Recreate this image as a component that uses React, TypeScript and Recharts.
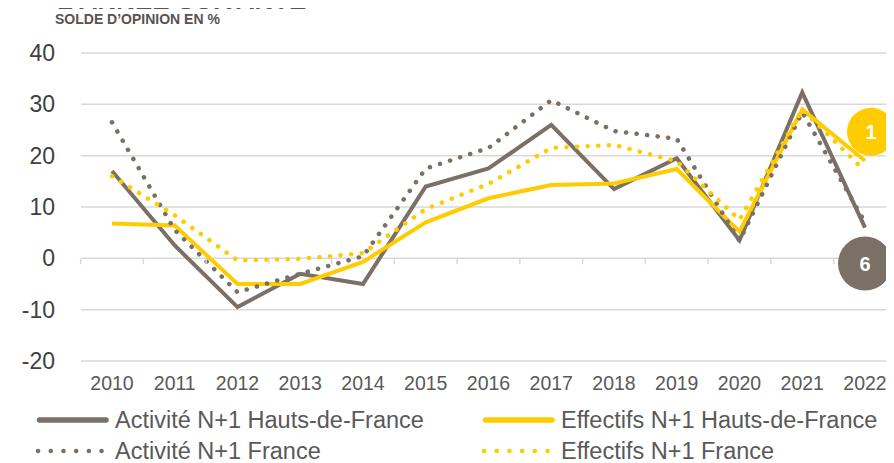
import {
  CartesianGrid,
  LabelList,
  Legend,
  Line,
  LineChart,
  XAxis,
  YAxis,
} from "recharts";

const years = ["2010", "2011", "2012", "2013", "2014", "2015", "2016", "2017", "2018", "2019", "2020", "2021", "2022"];
const activiteHdf = [17, 2.5, -9.5, -3, -5, 14, 17.5, 26, 13.5, 19.5, 3.5, 32.3, 6];
const effectifsHdf = [6.8, 6.4, -5, -5, -0.7, 7, 11.7, 14.3, 14.6, 17.4, 5.2, 29, 19];
const activiteFr = [26.5, 5.5, -6.6, -3, 0.4, 17.5, 21.5, 30.8, 24.8, 23.3, 3.4, 28.5, 7];
const effectifsFr = [16, 8.4, -0.4, -0.1, 1, 9.6, 14.5, 21.5, 22.1, 18.9, 7.5, 29, 17];
const yTicks = [-20, -10, 0, 10, 20, 30, 40];
const endLabelActivite = "6";
const endLabelEffectifs = "1";

const GRAY = "#7a7066";
const YELLOW = "#ffcc00";
const FONT = "'Liberation Sans', Arial, sans-serif";

// plot geometry
const PLOT_TOP = 53;
const PLOT_BOTTOM = 361;
const ZERO_Y = PLOT_TOP + ((PLOT_BOTTOM - PLOT_TOP) * 40) / 60;
const STEP = 62.75;

const data = years.map((year, i) => ({
  year,
  activiteHdf: activiteHdf[i],
  effectifsHdf: effectifsHdf[i],
  activiteFr: activiteFr[i],
  effectifsFr: effectifsFr[i],
}));

const legendItems = [
  { label: "Activité N+1 Hauts-de-France", color: GRAY, dotted: false },
  { label: "Effectifs N+1 Hauts-de-France", color: YELLOW, dotted: false },
  { label: "Activité N+1 France", color: GRAY, dotted: true },
  { label: "Effectifs N+1 France", color: YELLOW, dotted: true },
];

const XTick = (props: any) => {
  const { x, y, payload, index } = props;
  return (
    <g>
      <line x1={x - STEP / 2} x2={x - STEP / 2} y1={ZERO_Y} y2={ZERO_Y + 6} stroke="#d9d9d9" strokeWidth={1.5} />
      {index === years.length - 1 && (
        <line x1={x + STEP / 2} x2={x + STEP / 2} y1={ZERO_Y} y2={ZERO_Y + 6} stroke="#d9d9d9" strokeWidth={1.5} />
      )}
      <text x={x} y={y} dy={21} textAnchor="middle" fontSize={19.5} fill="#595959" fontFamily={FONT}>
        {payload.value}
      </text>
    </g>
  );
};

const endBubble = (color: string, text: string, dx: number, dy: number, r: number) => (props: any) => {
  const { x, y, index } = props;
  if (index !== years.length - 1) return null;
  return (
    <g>
      <circle cx={x + dx} cy={y + dy} r={r} fill={color} />
      <text x={x + dx} y={y + dy} dy={7} textAnchor="middle" fontSize={20} fontWeight="bold" fill="#fff" fontFamily={FONT}>
        {text}
      </text>
    </g>
  );
};

const LegendContent = () => (
  <div style={{ position: "relative", width: 894, height: 58, fontFamily: FONT }}>
    {legendItems.map((item, i) => {
      const left = i % 2 === 0 ? 34 : 480;
      const top = i < 2 ? 4 : 35;
      return (
        <div key={item.label} style={{ position: "absolute", left, top, display: "flex", alignItems: "center", height: 22 }}>
          <svg width={77} height={10} style={{ marginRight: 4 }}>
            <line
              x1={item.dotted ? 4 : 5.5}
              x2={item.dotted ? 70 : 72}
              y1={5}
              y2={5}
              stroke={item.color}
              strokeWidth={item.dotted ? 4.5 : 5.5}
              strokeLinecap="round"
              strokeDasharray={item.dotted ? "0.1 12.6" : undefined}
            />
          </svg>
          <span style={{ fontSize: 23.5, lineHeight: "22px", color: "#595959", whiteSpace: "nowrap" }}>{item.label}</span>
        </div>
      );
    })}
  </div>
);

export default function App() {
  return (
    <div style={{ position: "relative", width: 894, height: 463, margin: "-8px 0 0 -8px", overflow: "hidden" }}>
      <div
        style={{
          position: "absolute",
          left: 57,
          top: -13,
          fontFamily: FONT,
          fontWeight: "bold",
          fontSize: 26,
          lineHeight: "26px",
          color: "#5a5250",
          whiteSpace: "nowrap",
          zIndex: 2,
        }}
      >
        L’ANNÉE SUIVANTE
      </div>
      <div
        style={{
          position: "absolute",
          left: 55,
          top: 11,
          fontFamily: FONT,
          fontWeight: "bold",
          fontSize: 14,
          color: "#5a5250",
          whiteSpace: "nowrap",
          zIndex: 2,
        }}
      >
        SOLDE D’OPINION EN %
      </div>
      <LineChart
        width={894}
        height={463}
        data={data}
        margin={{ top: PLOT_TOP, right: 0, left: 11, bottom: 463 - PLOT_BOTTOM - 30 }}
      >
        <CartesianGrid vertical={false} stroke="#d9d9d9" strokeWidth={1.5} />
        <XAxis
          dataKey="year"
          axisLine={false}
          tickLine={false}
          height={30}
          padding={{ left: 31, right: 29 }}
          interval={0}
          tick={<XTick />}
        />
        <YAxis
          domain={[-20, 40]}
          ticks={yTicks}
          width={70}
          axisLine={false}
          tickLine={false}
          tickMargin={20}
          tick={{ fontSize: 23, fill: "#404040", fontFamily: FONT }}
        />
        <Legend
          layout="horizontal"
          verticalAlign="middle"
          align="center"
          content={<LegendContent />}
          wrapperStyle={{ position: "absolute", left: 0, top: 405, width: 894 }}
        />
        <Line
          dataKey="activiteHdf"
          stroke={GRAY}
          strokeWidth={4}
          dot={false}
          isAnimationActive={false}
        >
          <LabelList dataKey="activiteHdf" content={endBubble(GRAY, endLabelActivite, 0, 36, 27)} />
        </Line>
        <Line
          dataKey="effectifsHdf"
          stroke={YELLOW}
          strokeWidth={4}
          dot={false}
          isAnimationActive={false}
        >
          <LabelList dataKey="effectifsHdf" content={endBubble(YELLOW, endLabelEffectifs, 6, -29, 24)} />
        </Line>
        <Line
          dataKey="activiteFr"
          stroke={GRAY}
          strokeWidth={4.5}
          strokeDasharray="0.1 10.5"
          strokeLinecap="round"
          dot={false}
          isAnimationActive={false}
        />
        <Line
          dataKey="effectifsFr"
          stroke={YELLOW}
          strokeWidth={4.5}
          strokeDasharray="0.1 10.5"
          strokeLinecap="round"
          dot={false}
          isAnimationActive={false}
        />
      </LineChart>
    </div>
  );
}
